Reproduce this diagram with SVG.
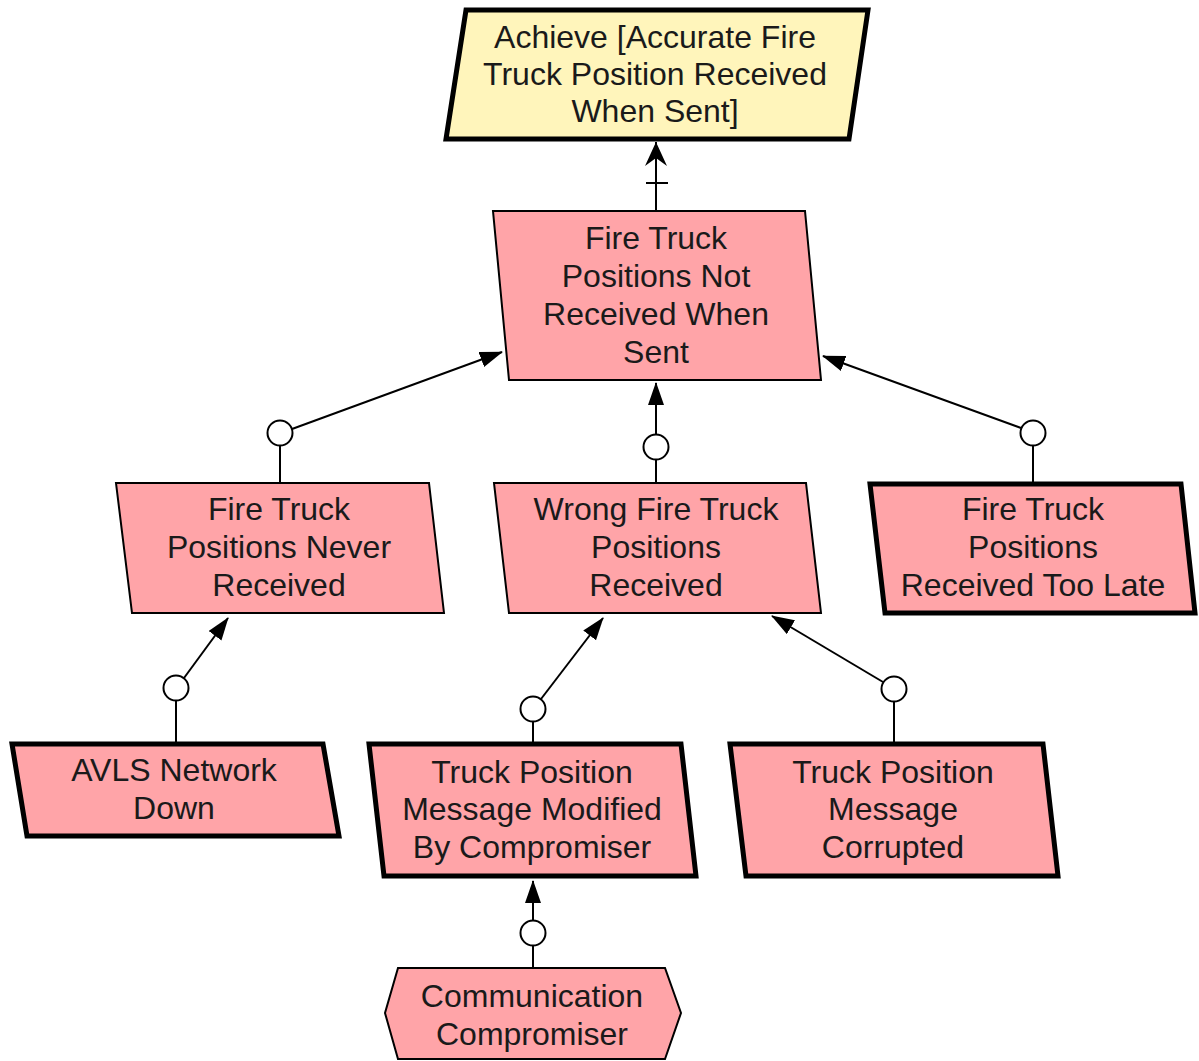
<svg xmlns="http://www.w3.org/2000/svg" width="1199" height="1061" viewBox="0 0 1199 1061">
  <style>
    .goal { fill: #FFF5BB; stroke: #000; stroke-width: 5; stroke-linejoin: miter; }
    .obs { fill: #FFA4A8; stroke: #000; stroke-width: 2; stroke-linejoin: miter; }
    .leaf { fill: #FFA4A8; stroke: #000; stroke-width: 5; stroke-linejoin: miter; }
    .lbl { font-family: "Liberation Sans", Arial, sans-serif; font-size: 32px; fill: #1a1a1a; text-anchor: middle; }
    .edge { stroke: #000; stroke-width: 2; fill: none; }
    .ref { fill: #fff; stroke: #000; stroke-width: 2; }
  </style>
  <defs>
    <marker id="arrow" markerUnits="userSpaceOnUse" markerWidth="24" markerHeight="18" refX="22" refY="8" orient="auto">
      <path d="M0,0 L23,8 L0,16 z" fill="#000"/>
    </marker>
    <marker id="refine" markerUnits="userSpaceOnUse" markerWidth="26" markerHeight="24" refX="24" refY="11" orient="auto">
      <path d="M0,0 L24,11 L0,22 L8,11 z" fill="#000"/>
    </marker>
  </defs>

  <!-- connectors -->
  <g id="connectors">
    <!-- refinement of the top goal -->
    <line class="edge" x1="656" y1="211" x2="656" y2="142" marker-end="url(#refine)"/>
    <line class="edge" x1="646" y1="183" x2="668" y2="183"/>

    <!-- obstruction links into "Not Received When Sent" -->
    <line class="edge" x1="280" y1="446" x2="280" y2="483"/>
    <circle class="ref" cx="280" cy="433" r="12.5"/>
    <line class="edge" x1="292" y1="429" x2="502" y2="352" marker-end="url(#arrow)"/>

    <line class="edge" x1="656" y1="460" x2="656" y2="483"/>
    <circle class="ref" cx="656" cy="447" r="12.5"/>
    <line class="edge" x1="656" y1="434" x2="656" y2="383" marker-end="url(#arrow)"/>

    <line class="edge" x1="1033" y1="446" x2="1033" y2="483"/>
    <circle class="ref" cx="1033" cy="433" r="12.5"/>
    <line class="edge" x1="1021" y1="428" x2="823" y2="356" marker-end="url(#arrow)"/>

    <!-- AVLS Network Down -> Never Received -->
    <line class="edge" x1="176" y1="701" x2="176" y2="743"/>
    <circle class="ref" cx="176" cy="688" r="12.5"/>
    <line class="edge" x1="184" y1="678" x2="228" y2="618" marker-end="url(#arrow)"/>

    <!-- Modified By Compromiser -> Wrong Positions -->
    <line class="edge" x1="533" y1="722" x2="533" y2="743"/>
    <circle class="ref" cx="533" cy="709" r="12.5"/>
    <line class="edge" x1="541" y1="699" x2="603" y2="618" marker-end="url(#arrow)"/>

    <!-- Corrupted -> Wrong Positions -->
    <line class="edge" x1="894" y1="702" x2="894" y2="743"/>
    <circle class="ref" cx="894" cy="689" r="12.5"/>
    <line class="edge" x1="883" y1="682" x2="772" y2="616" marker-end="url(#arrow)"/>

    <!-- Communication Compromiser -> Modified By Compromiser -->
    <line class="edge" x1="533" y1="946" x2="533" y2="968"/>
    <circle class="ref" cx="533" cy="933" r="12.5"/>
    <line class="edge" x1="533" y1="920" x2="533" y2="881" marker-end="url(#arrow)"/>
  </g>

  <!-- nodes -->
  <g id="goal-accurate-position">
    <polygon class="goal" points="466,10 868,10 849,139 446,139"/>
    <text class="lbl" x="655" y="48">Achieve [Accurate Fire</text>
    <text class="lbl" x="655" y="85">Truck Position Received</text>
    <text class="lbl" x="655" y="122">When Sent]</text>
  </g>

  <g id="obs-not-received-when-sent">
    <polygon class="obs" points="493,211 805,211 821,380 509,380"/>
    <text class="lbl" x="656" y="249">Fire Truck</text>
    <text class="lbl" x="656" y="287">Positions Not</text>
    <text class="lbl" x="656" y="325">Received When</text>
    <text class="lbl" x="656" y="363">Sent</text>
  </g>

  <g id="obs-never-received">
    <polygon class="obs" points="116,483 429,483 444,613 132,613"/>
    <text class="lbl" x="279" y="520">Fire Truck</text>
    <text class="lbl" x="279" y="558">Positions Never</text>
    <text class="lbl" x="279" y="596">Received</text>
  </g>

  <g id="obs-wrong-positions">
    <polygon class="obs" points="494,483 806,483 821,613 509,613"/>
    <text class="lbl" x="656" y="520">Wrong Fire Truck</text>
    <text class="lbl" x="656" y="558">Positions</text>
    <text class="lbl" x="656" y="596">Received</text>
  </g>

  <g id="obs-too-late">
    <polygon class="leaf" points="870,484 1181,484 1195,613 885,613"/>
    <text class="lbl" x="1033" y="520">Fire Truck</text>
    <text class="lbl" x="1033" y="558">Positions</text>
    <text class="lbl" x="1033" y="596">Received Too Late</text>
  </g>

  <g id="obs-avls-down">
    <polygon class="leaf" points="12,744 323,744 339,836 27,836"/>
    <text class="lbl" x="174" y="781">AVLS Network</text>
    <text class="lbl" x="174" y="819">Down</text>
  </g>

  <g id="obs-modified">
    <polygon class="leaf" points="369,744 681,744 696,876 384,876"/>
    <text class="lbl" x="532" y="783">Truck Position</text>
    <text class="lbl" x="532" y="820">Message Modified</text>
    <text class="lbl" x="532" y="858">By Compromiser</text>
  </g>

  <g id="obs-corrupted">
    <polygon class="leaf" points="730,744 1043,744 1058,876 746,876"/>
    <text class="lbl" x="893" y="783">Truck Position</text>
    <text class="lbl" x="893" y="820">Message</text>
    <text class="lbl" x="893" y="858">Corrupted</text>
  </g>

  <g id="agent-compromiser">
    <polygon class="obs" points="398,968 665,968 681,1013 665,1059 398,1059 385,1013"/>
    <text class="lbl" x="532" y="1007">Communication</text>
    <text class="lbl" x="532" y="1045">Compromiser</text>
  </g>
</svg>
